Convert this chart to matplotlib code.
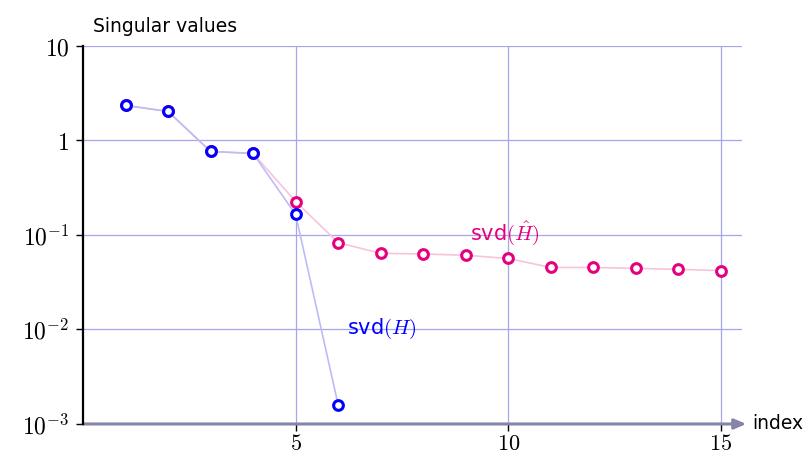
import matplotlib
matplotlib.use("Agg")
import matplotlib.pyplot as plt

# singular values of the exact and the perturbed operator
idx_h = [1, 2, 3, 4, 5, 6]
sv_h = [2.35, 2.03, 0.765, 0.73, 0.165, 0.0016]
idx_hat = [1, 2, 3, 4, 5, 6, 7, 8, 9, 10, 11, 12, 13, 14, 15]
sv_hat = [2.35, 2.03, 0.765, 0.73, 0.226, 0.083, 0.064, 0.063, 0.061, 0.0564,
          0.0453, 0.0453, 0.0443, 0.0433, 0.042]
xticks = [5, 10, 15]
yticks = [1e-3, 1e-2, 1e-1, 1, 10]
ylabels = [r"$10^{-3}$", r"$10^{-2}$", r"$10^{-1}$", r"$1$", r"$10$"]

BLUE, MAG = "#0000ff", "#e6007e"
BLUE_LT, MAG_LT = "#bcbcf6", "#f7c4dc"
GRID = "#a6a6ee"
plt.rcParams.update({"mathtext.fontset": "cm", "font.family": "DejaVu Sans"})

fig = plt.figure(figsize=(8.1, 4.59), dpi=100)
ax = fig.add_axes([0.1025, 0.0763, 0.8136, 0.8235])
ax.set_yscale("log")
ax.set_xlim(0, 15.5)
ax.set_ylim(1e-3, 10)

for x in xticks:
    ax.axvline(x, color=GRID, lw=0.9, zorder=0)
for y in yticks[1:]:
    ax.axhline(y, color=GRID, lw=0.9, zorder=0)

ax.plot(idx_hat, sv_hat, "-", color=MAG_LT, lw=1.2, zorder=2)
ax.plot(idx_hat, sv_hat, "o", mfc="white", mec=MAG, mew=2.2, ms=7, zorder=3)
ax.plot(idx_h, sv_h, "-", color=BLUE_LT, lw=1.2, zorder=4)
ax.plot(idx_h, sv_h, "o", mfc="white", mec=BLUE, mew=2.2, ms=7, zorder=5)

ax.text(6.2, 0.0102, r"svd$(H)$", color=BLUE, fontsize=15, va="center", ha="left")
ax.text(9.1, 0.105, r"svd$(\hat{H})$", color=MAG, fontsize=15, va="center", ha="left")

ax.set_xticks(xticks)
ax.set_xticklabels([rf"${t}$" for t in xticks], fontsize=16)
ax.set_yticks(yticks)
ax.set_yticklabels(ylabels, fontsize=17)
ax.minorticks_off()
ax.tick_params(direction="out", length=5, width=1, color="black")
ax.tick_params(axis="y", pad=5)
ax.tick_params(axis="x", pad=2)

for s in ("top", "right", "bottom"):
    ax.spines[s].set_visible(False)
ax.spines["left"].set_linewidth(1.6)
ax.spines["left"].set_zorder(6)

# x axis drawn as an arrow
ax.annotate("", xy=(15.6, 1e-3), xytext=(0, 1e-3), xycoords="data",
            annotation_clip=False,
            arrowprops=dict(arrowstyle="-|>,head_length=0.7,head_width=0.3",
                            color="#8585aa", lw=2.2, shrinkA=0, shrinkB=0))
ax.text(15.75, 1e-3, "index", fontsize=13.5, va="center", ha="left", clip_on=False)
fig.text(0.115, 0.943, "Singular values", fontsize=13.5, va="center", ha="left")

fig.savefig("out.png", dpi=100)
